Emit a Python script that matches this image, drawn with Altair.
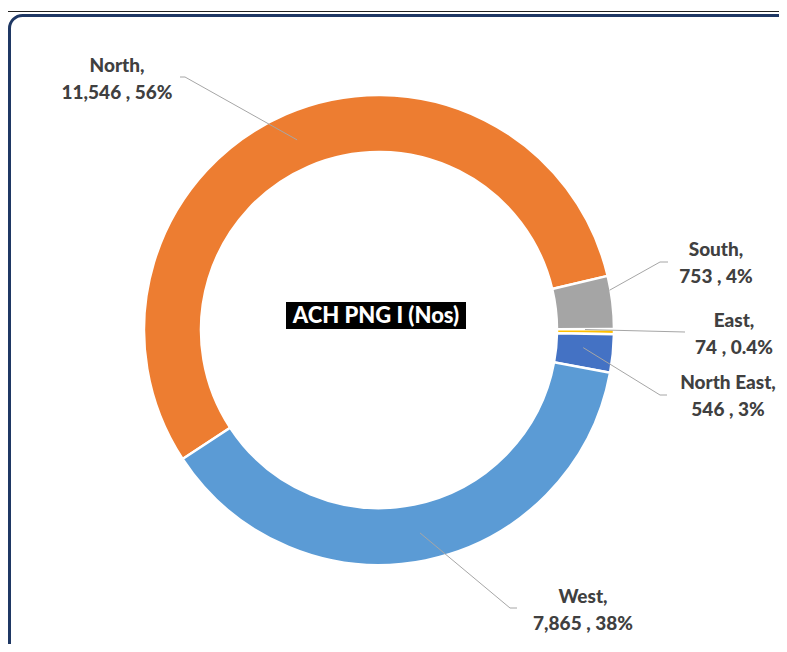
import math
import altair as alt
import pandas as pd

# ---- data ----
regions = ["North", "South", "East", "North East", "West"]
values = [11546, 753, 74, 546, 7865]
colors = ["#ED7D31", "#A5A5A5", "#FFC000", "#4472C4", "#5B9BD5"]
title_text = "ACH PNG I (Nos)"

# ---- layout (page pixel space) ----
CX, CY = 379, 330
R_IN, R_OUT = 178, 235
START_DEG = 236.7
label_x = [117, 716, 734, 728, 583]
label_y = [66, 250, 321, 383, 597]
elbow_x = [185, 660, 685, 660, 510]
elbow_y = [77, 262, 332, 395, 608]
tail_x = [180, 668, 685, 667, 517]
anchor_r = [207, 234, 206, 205, 207]
anchor_shift = [0, -3, -0.5, -0.8, 0]

total = sum(values)


def fmt_pct(v):
    p = v / total * 100
    return f"{round(p)}%" if p >= 1 else f"{round(p, 1)}%"


df = pd.DataFrame({
    "region": regions,
    "value": values,
    "idx": list(range(len(regions))),
    "line1": [r + "," for r in regions],
    "line2": [f"{v:,} , {fmt_pct(v)}" for v in values],
    "lx": label_x,
    "ly": label_y,
})
df["ly2"] = df["ly"] + 27

# leader lines
rows = []
cum = 0
for i, (r, v) in enumerate(zip(regions, values)):
    mid = START_DEG + (cum + v / 2) / total * 360 + anchor_shift[i]
    cum += v
    a = math.radians(mid)
    ax = CX + anchor_r[i] * math.sin(a)
    ay = CY - anchor_r[i] * math.cos(a)
    rows.append({"region": r, "k": 0, "x": ax, "y": ay})
    rows.append({"region": r, "k": 1, "x": elbow_x[i], "y": elbow_y[i]})
    rows.append({"region": r, "k": 2, "x": tail_x[i], "y": elbow_y[i]})
lines_df = pd.DataFrame(rows)

xs = alt.Scale(domain=[8, 779], nice=False, zero=False)
ys = alt.Scale(domain=[8, 644], nice=False, zero=False, reverse=True)

FONT = "Lato"
TXT = "#404040"

base = alt.Chart(df)

start_rad = math.radians(START_DEG)
arcs = base.mark_arc(innerRadius=R_IN, outerRadius=R_OUT, stroke="white", strokeWidth=2.5).encode(
    theta=alt.Theta("value:Q", stack=True, scale=alt.Scale(range=[start_rad, start_rad + 2 * math.pi])),
    order=alt.Order("idx:Q"),
    color=alt.Color("region:N", scale=alt.Scale(domain=regions, range=colors), legend=None),
    x=alt.XDatum(CX, type="quantitative", scale=xs, axis=None),
    y=alt.YDatum(CY, type="quantitative", scale=ys, axis=None),
)

leaders = alt.Chart(lines_df).mark_line(color="#A6A6A6", strokeWidth=1).encode(
    x=alt.X("x:Q", scale=xs, axis=None),
    y=alt.Y("y:Q", scale=ys, axis=None),
    detail="region:N",
    order="k:Q",
)

t1 = base.mark_text(font=FONT, fontSize=19, fontWeight=900, color=TXT, baseline="middle", align="center").encode(
    x=alt.X("lx:Q", scale=xs, axis=None),
    y=alt.Y("ly:Q", scale=ys, axis=None),
    text="line1:N",
)
t2 = base.mark_text(font=FONT, fontSize=19, fontWeight=900, color=TXT, baseline="middle", align="center").encode(
    x=alt.X("lx:Q", scale=xs, axis=None),
    y=alt.Y("ly2:Q", scale=ys, axis=None),
    text="line2:N",
)

title_df = pd.DataFrame({"t": [title_text]})
title_box = alt.Chart(title_df).mark_rect(color="black").encode(
    x=alt.XDatum(286, type="quantitative", scale=xs, axis=None),
    x2=alt.X2Datum(466),
    y=alt.YDatum(302, type="quantitative", scale=ys, axis=None),
    y2=alt.Y2Datum(329),
)
title_txt = alt.Chart(title_df).mark_text(font=FONT, fontSize=22, fontWeight=900, color="white",
                                          baseline="middle", align="center").encode(
    x=alt.XDatum(376, type="quantitative", scale=xs, axis=None),
    y=alt.YDatum(316, type="quantitative", scale=ys, axis=None),
    text="t:N",
)

frame = alt.Chart(title_df).mark_rect(cornerRadius=13, fill="white", fillOpacity=0,
                                      stroke="#1F3864", strokeWidth=3).encode(
    x=alt.XDatum(9.5, type="quantitative", scale=xs, axis=None),
    x2=alt.X2Datum(800),
    y=alt.YDatum(15.5, type="quantitative", scale=ys, axis=None),
    y2=alt.Y2Datum(680),
)
topline = alt.Chart(title_df).mark_rule(color="#222222", strokeWidth=1).encode(
    x=alt.XDatum(8, type="quantitative", scale=xs, axis=None),
    x2=alt.X2Datum(779),
    y=alt.YDatum(11.5, type="quantitative", scale=ys, axis=None),
)

chart = alt.layer(frame, topline, arcs, leaders, title_box, title_txt, t1, t2).properties(
    width=771, height=636, padding=0,
    autosize=alt.AutoSizeParams(type="none"),
    background="white",
).configure_view(stroke=None)

chart.save("out.html", embed_options={"renderer": "svg", "actions": False})
